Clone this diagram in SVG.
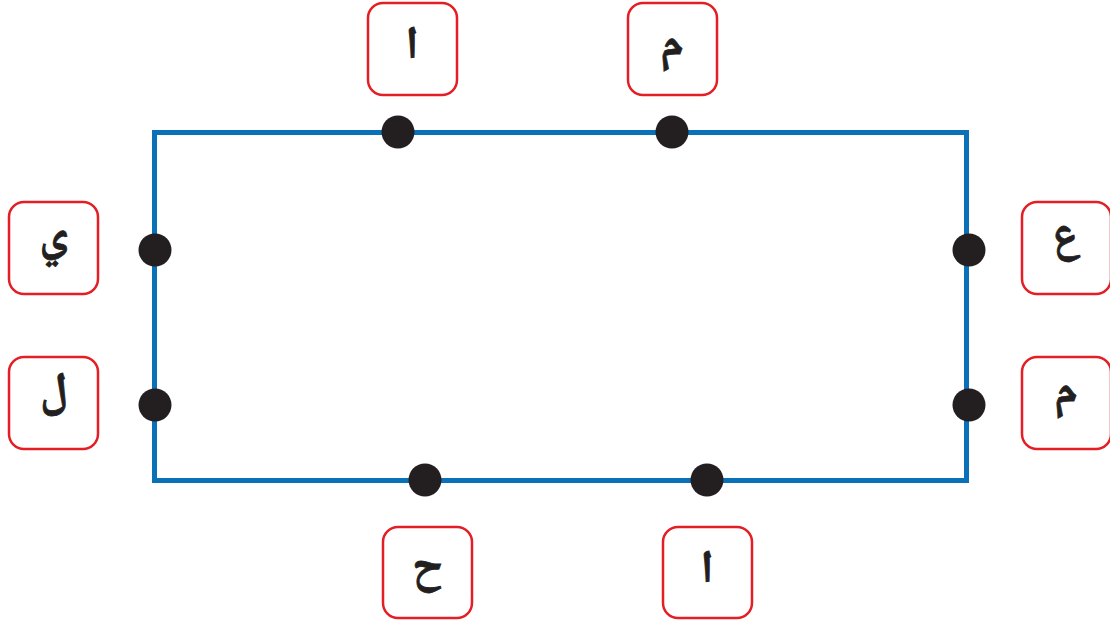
<svg xmlns="http://www.w3.org/2000/svg" width="1110" height="624" viewBox="0 0 1110 624">
<style>
.box{fill:#fff;stroke:#e31e25;stroke-width:2.5}
.dot{fill:#231f20}
.t{font-family:"Noto Naskh Arabic","DejaVu Sans",sans-serif;font-weight:bold;font-size:46px;fill:#231f20;stroke:#231f20;stroke-width:0.8;text-anchor:middle}
</style>
<rect width="1110" height="624" fill="#fff"/>
<g id="connectors">
<rect x="154.5" y="132.5" width="812" height="348" fill="none" stroke="#0a70b8" stroke-width="5"/>
</g>
<g id="n1"><rect class="box" x="368" y="3" width="89" height="92" rx="15"/><text class="t" x="412" y="58" direction="rtl">ا</text><circle class="dot" cx="398" cy="132" r="16.5"/></g>
<g id="n2"><rect class="box" x="628" y="3" width="89" height="92" rx="15"/><text class="t" x="672" y="56" direction="rtl">م</text><circle class="dot" cx="672" cy="132" r="16.5"/></g>
<g id="n3"><rect class="box" x="9" y="202" width="89" height="92" rx="15"/><text class="t" x="54" y="248" direction="rtl">ي</text><circle class="dot" cx="155" cy="250" r="16.5"/></g>
<g id="n4"><rect class="box" x="9" y="357" width="89" height="92" rx="15"/><text class="t" x="54" y="404" direction="rtl">ل</text><circle class="dot" cx="155" cy="405" r="16.5"/></g>
<g id="n5"><rect class="box" x="1022" y="202" width="89" height="92" rx="15"/><text class="t" x="1066" y="248" direction="rtl">ع</text><circle class="dot" cx="969" cy="250" r="16.5"/></g>
<g id="n6"><rect class="box" x="1022" y="357" width="89" height="92" rx="15"/><text class="t" x="1066" y="403" direction="rtl">م</text><circle class="dot" cx="969" cy="405" r="16.5"/></g>
<g id="n7"><rect class="box" x="383" y="527" width="89" height="91" rx="15"/><text class="t" x="427" y="580" direction="rtl">ح</text><circle class="dot" cx="425" cy="480" r="16.5"/></g>
<g id="n8"><rect class="box" x="663" y="527" width="89" height="91" rx="15"/><text class="t" x="707" y="582" direction="rtl">ا</text><circle class="dot" cx="707" cy="480" r="16.5"/></g>
</svg>
